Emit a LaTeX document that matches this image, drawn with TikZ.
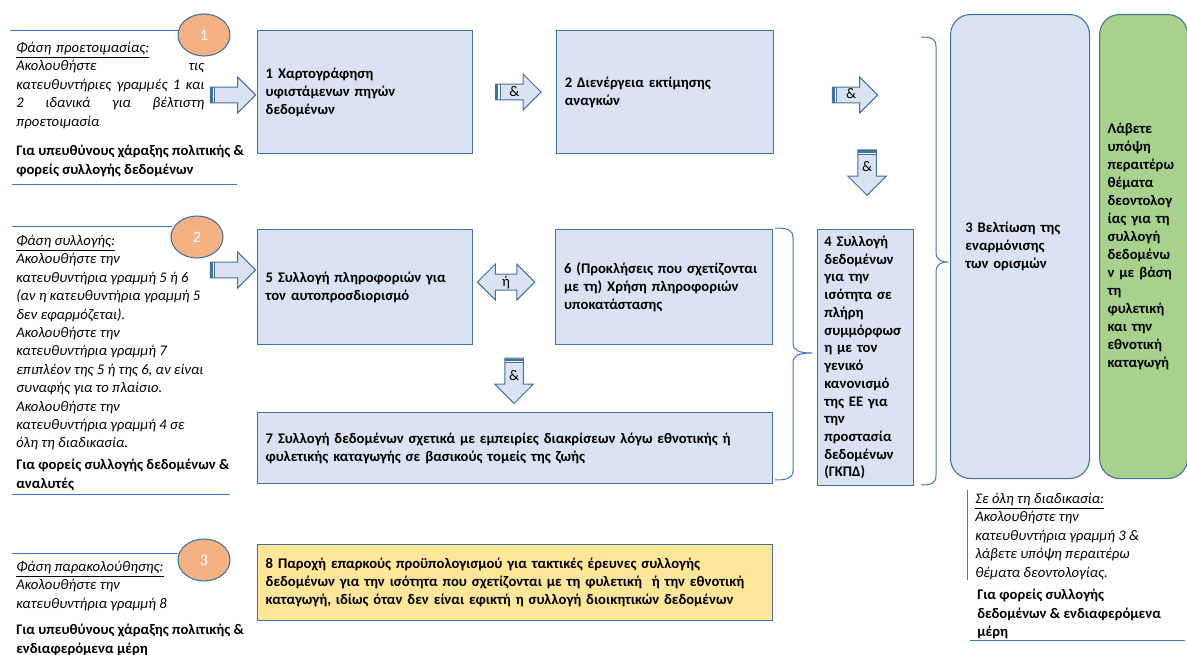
\documentclass[tikz,border=0pt]{standalone}
\usepackage{fontspec}
\setmainfont{Carlito}
\usetikzlibrary{positioning,calc,shapes.geometric,shapes.arrows}
\definecolor{boxblue}{HTML}{DAE3F3}
\definecolor{edgeblue}{HTML}{41719C}
\definecolor{ruleblue}{HTML}{4472C4}
\definecolor{phaseorange}{HTML}{F4B183}
\definecolor{ethicgreen}{HTML}{A9D18E}
\definecolor{budgetyellow}{HTML}{FFE699}
\tikzset{
  gbox/.style    ={rectangle, draw=edgeblue, fill=boxblue, line width=0.8pt,
                   align=left, font=\bfseries\fontsize{11}{13.5}\selectfont,
                   inner xsep=6pt, inner ysep=2pt},
  gboxY/.style   ={gbox, fill=budgetyellow},                 % Monitoring
  gboxR/.style   ={gbox, rounded corners=15pt, inner xsep=11pt}, % Definitions
  gboxG/.style   ={gboxR, fill=ethicgreen, inner xsep=6pt},  % Ethics
  phase/.style   ={ellipse, draw=edgeblue, fill=phaseorange, line width=0.8pt,
                   minimum width=39pt, minimum height=31.5pt, text=white,
                   font=\fontsize{12}{14}\selectfont},
  side/.style    ={anchor=north west, align=left, inner sep=0pt,
                   font=\itshape\fontsize{11}{13.8}\selectfont},
  who/.style     ={anchor=north west, align=left, inner sep=0pt,
                   font=\bfseries\fontsize{11}{13.8}\selectfont},
  rule/.style    ={draw=ruleblue, line width=0.75pt},
  bracket/.style ={draw=ruleblue, line width=0.75pt},
  blk/.style     ={single arrow, draw=edgeblue, fill=boxblue, line width=0.75pt,
                   single arrow head extend=7.5pt, minimum height=34pt,
                   inner xsep=2pt, inner ysep=1.6pt, text height=7pt, text depth=1pt,
                   font=\fontsize{11}{13}\selectfont},
  stripesL/.style={path picture={
      \fill[edgeblue] ([xshift=0.4pt]path picture bounding box.south west)
                rectangle ([xshift=2pt]path picture bounding box.north west);
      \fill[white] ([xshift=2pt]path picture bounding box.south west)
                rectangle ([xshift=3pt]path picture bounding box.north west);
      \fill[edgeblue] ([xshift=3pt]path picture bounding box.south west)
                rectangle ([xshift=3.7pt]path picture bounding box.north west);}},
  stripesT/.style={path picture={
      \fill[edgeblue] ([yshift=-0.4pt]path picture bounding box.north west)
                rectangle ([yshift=-2pt]path picture bounding box.north east);
      \fill[white] ([yshift=-2pt]path picture bounding box.north west)
                rectangle ([yshift=-3pt]path picture bounding box.north east);
      \fill[edgeblue] ([yshift=-3pt]path picture bounding box.north west)
                rectangle ([yshift=-3.7pt]path picture bounding box.north east);}},
  blkR/.style    ={blk, stripesL},
  blkD/.style    ={blk, stripesT, shape border rotate=270, inner xsep=2.8pt, inner ysep=2pt},
  blkLR/.style   ={double arrow, draw=edgeblue, fill=boxblue, line width=0.75pt,
                   double arrow head extend=7.5pt, minimum height=43pt,
                   inner xsep=9pt, inner ysep=1.6pt, text height=7pt, text depth=1pt,
                   font=\fontsize{11}{13}\selectfont},
}
\newcommand{\fillline}[1]{\leavevmode\hbox to 141pt{#1}}

\begin{document}
\begin{tikzpicture}[x=0.75pt, y=-0.75pt]
  \useasboundingbox (0,0) rectangle (1187,655);

  % guideline boxes
  \node[gbox, anchor=north west, minimum width=161.25pt, minimum height=92.25pt,
        text width=149pt] (map) at (257,30)
        {1 Χαρτογράφηση\\υφιστάμενων πηγών\\δεδομένων};
  \node[gbox, minimum width=162.75pt, minimum height=92.25pt, text width=150pt,
        right=62pt of map] (needs)
        {2 Διενέργεια εκτίμησης\\αναγκών};
  \node[gbox, minimum width=161.25pt, minimum height=86.25pt, text width=149pt,
        below=56.25pt of map] (selfid)
        {5 Συλλογή πληροφοριών για\\τον αυτοπροσδιορισμό};
  \node[gbox, minimum width=162.75pt, minimum height=86.25pt, text width=150pt,
        right=61.5pt of selfid] (proxy)
        {6 (Προκλήσεις που σχετίζονται\\με τη) Χρήση πληροφοριών\\υποκατάστασης};
  \node[gbox, minimum width=386.25pt, minimum height=53.25pt, text width=374pt,
        below=50.25pt of selfid.south west, anchor=north west] (discrim)
        {7 Συλλογή δεδομένων σχετικά με εμπειρίες διακρίσεων λόγω εθνοτικής ή\\
         φυλετικής καταγωγής σε βασικούς τομείς της ζωής};
  \node[gboxY, minimum width=386.25pt, minimum height=57pt, text width=374pt,
        below=45pt of discrim.south west, anchor=north west] (budget)
        {8 Παροχή επαρκούς προϋπολογισμού για τακτικές έρευνες συλλογής\\
         δεδομένων για την ισότητα που σχετίζονται με τη φυλετική \ ή την εθνοτική\\
         καταγωγή, ιδίως όταν δεν είναι εφικτή η συλλογή διοικητικών δεδομένων};
  \node[gbox, minimum width=72pt, minimum height=192pt, text width=62pt,
        inner xsep=5pt, font=\bfseries\fontsize{11}{13.3}\selectfont,
        right=33pt of proxy.north east, anchor=north west] (gdpr)
        {4 Συλλογή\\δεδομένων\\για την\\ισότητα σε\\πλήρη\\συμμόρφωσ\\η με τον\\γενικό\\
         κανονισμό\\της ΕΕ για\\την\\προστασία\\δεδομένων\\(ΓΚΠΔ)};
  \node[gboxR, anchor=north west, minimum width=104.25pt, minimum height=348pt,
        text width=82pt] (harm) at (950,14)
        {3 Βελτίωση της\\εναρμόνισης\\των ορισμών};
  \node[gboxG, minimum width=66pt, minimum height=348pt, text width=54pt,
        right=6.75pt of harm] (ethics)
        {Λάβετε\\υπόψη\\περαιτέρω\\θέματα\\δεοντολογ\\ίας για τη\\συλλογή\\δεδομένω\\
         ν με βάση\\τη\\φυλετική\\και την\\εθνοτική\\καταγωγή};

  % block arrows
  \node[blkR] (in1) at (229,95) {};
  \node[blkR] (in2) at (229,270) {};
  \node[blkR] (and1) at ($(map.east)!0.5!(needs.west)$) {\&};
  \node[blkR] (and2) at (851,95) {\&};
  \node[blkD] (and3) at (867,168) {\&};
  \node[blkLR] (or1) at ($(selfid.east)!0.5!(proxy.west) + (-8,-5)$) {ή};
  \node[blkD] (and4) at ($(selfid.south east)!0.5!(proxy.south west) + (0,31)$) {\&};

  % braces
  \draw[bracket] (775,228) .. controls (788,228) and (793,230) .. (793,238)
        -- (793,343) .. controls (793,350) and (798,353) .. (812,353)
        .. controls (798,353) and (793,356) .. (793,363)
        -- (793,470) .. controls (793,478) and (788,480) .. (775,480);
  \draw[bracket] (921,37) .. controls (932,37) and (936,39) .. (936,47)
        -- (936,252) .. controls (936,259) and (940,262) .. (948,262)
        .. controls (940,262) and (936,265) .. (936,272)
        -- (936,475) .. controls (936,483) and (932,485) .. (921,485);

  % phase 1
  \draw[rule] (10,31) -- (178,31);
  \node[phase] (p1) at (204,35) {1};
  \node[side, text width=141pt] (prep) at (16,42)
    {\underline{Φάση προετοιμασίας:}\\
     \fillline{Ακολουθήστε\hfill τις}\\
     \fillline{κατευθυντήριες\hfill γραμμές\hfill 1\hfill και}\\
     \fillline{2\hfill ιδανικά\hfill για\hfill βέλτιστη}\\
     προετοιμασία};
  \node[who] (prepwho) at (16,145)
    {Για υπευθύνους χάραξης πολιτικής \&\\φορείς συλλογής δεδομένων};
  \draw[rule] (12,185) -- (237,185);

  % phase 2
  \draw[rule] (12,227) -- (172,227);
  \node[phase] (p2) at (197,237) {2};
  \node[side] (coll) at (16,235)
    {\underline{Φάση συλλογής:}\\
     Ακολουθήστε την\\
     κατευθυντήρια γραμμή 5 ή 6\\
     (αν η κατευθυντήρια γραμμή 5\\
     δεν εφαρμόζεται).\\
     Ακολουθήστε την\\
     κατευθυντήρια γραμμή 7\\
     επιπλέον της 5 ή της 6, αν είναι\\
     συναφής για το πλαίσιο.\\
     Ακολουθήστε την\\
     κατευθυντήρια γραμμή 4 σε\\
     όλη τη διαδικασία.};
  \node[who] (collwho) at (16,459)
    {Για φορείς συλλογής δεδομένων \&\\αναλυτές};
  \draw[rule] (12,494) -- (230,494);

  % phase 3
  \draw[rule] (12,553) -- (178,553);
  \node[phase] (p3) at (204,560) {3};
  \node[side] (mon) at (16,561)
    {\underline{Φάση παρακολούθησης:}\\
     Ακολουθήστε την\\
     κατευθυντήρια γραμμή 8};
  \node[who] (monwho) at (16,624)
    {Για υπευθύνους χάραξης πολιτικής \&\\ενδιαφερόμενα μέρη};

  % throughout
  \draw[rule] (967,490) -- (967,580);
  \node[side] (all) at (975,493)
    {\underline{Σε όλη τη διαδικασία:}\\
     Ακολουθήστε την\\
     κατευθυντήρια γραμμή 3 \&\\
     λάβετε υπόψη περαιτέρω\\
     θέματα δεοντολογίας.};
  \node[who] (allwho) at (977,589)
    {Για φορείς συλλογής\\δεδομένων \& ενδιαφερόμενα\\μέρη};
  \draw[rule] (970,640) -- (1185,640);
\end{tikzpicture}
\end{document}
